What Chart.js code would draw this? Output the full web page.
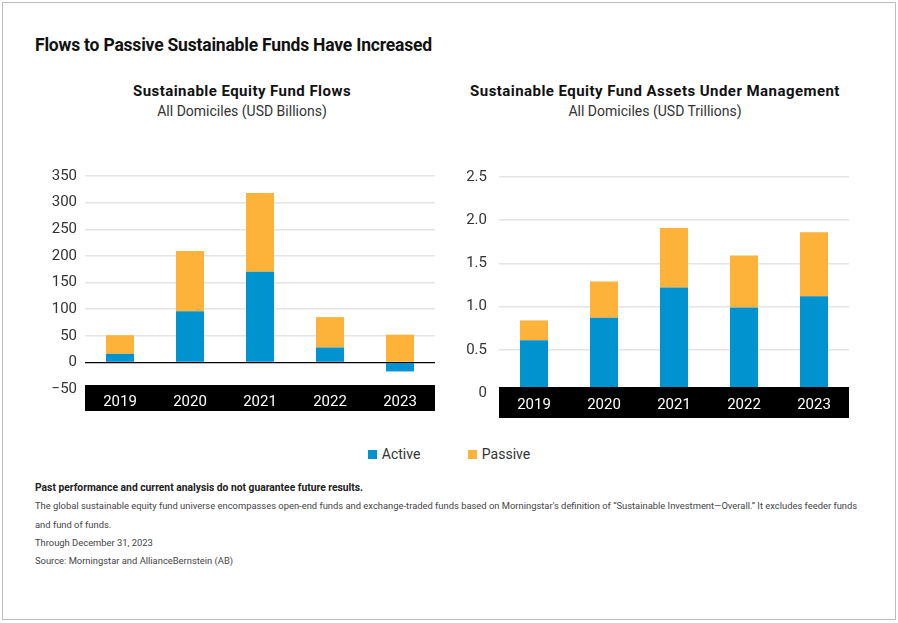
<!DOCTYPE html>
<html lang="en">
<head>
  <meta charset="UTF-8"/>
  <title>Flows to Passive Sustainable Funds Have Increased</title>
  <script src="https://cdn.jsdelivr.net/npm/chart.js"></script>
  <style>
    body {
      margin: 0;
      background: #fff;
      font-family: 'Roboto', 'Liberation Sans', sans-serif;
      color: #222;
    }
    .frame {
      position: absolute;
      left: 2px; top: 2px;
      width: 894px; height: 618px;
      border: 1px solid #bdbdbd;
      box-sizing: border-box;
    }
    .title {
      position: absolute;
      left: 35px; top: 35px;
      font-size: 17.5px;
      font-weight: 700;
      letter-spacing: -0.2px;
      color: #111;
    }
    .sub {
      position: absolute;
      text-align: center;
      line-height: 20px;
    }
    .sub b { font-size: 15px; color: #111; letter-spacing: 0.45px; }
    .sub span { font-size: 14px; color: #333; }
    .box { position: absolute; }
    .legend {
      position: absolute;
      top: 446px; left: 0; width: 898px;
      text-align: center;
      font-size: 14px;
      color: #333;
    }
    .legend i {
      display: inline-block;
      width: 9px; height: 9px;
      margin-right: 5px;
      vertical-align: 0;
    }
    .legend .item { margin: 0 22px; }
    .notes {
      position: absolute;
      left: 35px; top: 479px;
      font-size: 9.4px;
      line-height: 18.3px;
      color: #444;
    }
    .notes b { color: #222; font-size: 10.3px; }
  </style>
</head>
<body>

<div class="frame"></div>
<div class="title">Flows to Passive Sustainable Funds Have Increased</div>

<div class="sub" style="left:48px; top:81px; width:388px;">
  <b>Sustainable Equity Fund Flows</b><br><span>All Domiciles (USD Billions)</span>
</div>
<div class="sub" style="left:455px; top:81px; width:400px;">
  <b>Sustainable Equity Fund Assets Under Management</b><br><span>All Domiciles (USD Trillions)</span>
</div>

<div class="box" style="left:40px; top:159px; width:395px; height:252px;">
  <canvas id="flowsChart"></canvas>
</div>
<div class="box" style="left:455px; top:156px; width:394px; height:262px;">
  <canvas id="aumChart"></canvas>
</div>

<div class="legend">
  <span class="item"><i style="background:#0093d0"></i>Active</span>
  <span class="item"><i style="background:#fdb239"></i>Passive</span>
</div>

<div class="notes">
  <b>Past performance and current analysis do not guarantee future results.</b><br>
  The global sustainable equity fund universe encompasses open-end funds and exchange-traded funds based on Morningstar's definition of “Sustainable Investment—Overall.” It excludes feeder funds<br>
  and fund of funds.<br>
  Through December 31, 2023<br>
  Source: Morningstar and AllianceBernstein (AB)
</div>

<script>
  // data
  const years = ["2019", "2020", "2021", "2022", "2023"];
  const flowsActive  = [16, 96, 170, 28, -17];     // USD billions
  const flowsPassive = [35, 113, 148, 57, 52];
  const aumActive  = [0.61, 0.87, 1.22, 0.99, 1.12]; // USD trillions
  const aumPassive = [0.23, 0.42, 0.69, 0.60, 0.74];
  const flowTicks = [-50, 0, 50, 100, 150, 200, 250, 300, 350];
  const aumTicks  = [0, 0.5, 1.0, 1.5, 2.0, 2.5];

  const BLUE = "#0093d0";
  const ORANGE = "#fdb239";

  // black band behind the year labels
  const bandPlugin = {
    id: "band",
    afterDatasetsDraw(chart, args, opts) {
      const { ctx, scales: { x }, chartArea } = chart;
      ctx.save();
      ctx.fillStyle = "#000";
      const top = chartArea.bottom - opts.overlap;
      ctx.fillRect(x.left, top, x.right - x.left, x.bottom - top);
      ctx.restore();
    }
  };

  function makeChart(id, active, passive, ticks, opt) {
    return new Chart(document.getElementById(id), {
      type: "bar",
      data: {
        labels: years,
        datasets: [
          { label: "Active", data: active, backgroundColor: BLUE },
          { label: "Passive", data: passive, backgroundColor: ORANGE }
        ]
      },
      options: {
        responsive: true,
        maintainAspectRatio: false,
        animation: false,
        layout: { padding: { top: 10, right: 0, left: 0, bottom: 0 } },
        datasets: { bar: { barPercentage: 0.4, categoryPercentage: 1 } },
        plugins: {
          legend: { display: false },
          tooltip: { enabled: false },
          band: { overlap: opt.overlap }
        },
        scales: {
          x: {
            stacked: true,
            border: { display: false },
            grid: { display: false, drawTicks: false },
            ticks: {
              z: 1,
              color: "#fff",
              padding: opt.tickPad,
              font: { family: "Roboto", size: 15 }
            },
            afterFit: s => { s.height = opt.xHeight; }
          },
          y: {
            stacked: true,
            min: ticks[0],
            max: ticks[ticks.length - 1],
            afterBuildTicks: s => { s.ticks = ticks.map(v => ({ value: v })); },
            afterFit: s => { s.width = opt.yWidth; },
            border: { display: false },
            grid: {
              drawTicks: false,
              color: c => (c.tick.value === 0 && opt.zeroLine) ? "#000" : "#e4e4e4",
              lineWidth: c => (c.tick.value === 0 && opt.zeroLine) ? 1.2 : 1.5
            },
            ticks: {
              color: "#333",
              padding: opt.yPad,
              font: { family: "Roboto", size: 15 },
              callback: v => opt.fmt(v)
            }
          }
        }
      },
      plugins: [bandPlugin]
    });
  }

  makeChart("flowsChart", flowsActive, flowsPassive, flowTicks, {
    overlap: 4, tickPad: 4, xHeight: 22, yWidth: 45, yPad: 8, zeroLine: true,
    fmt: v => String(v).replace("-", "\u2212")
  });

  makeChart("aumChart", aumActive, aumPassive, aumTicks, {
    overlap: 6, tickPad: 3, xHeight: 25, yWidth: 44, yPad: 12, zeroLine: false,
    fmt: v => v === 0 ? "0" : v.toFixed(1)
  });
</script>

</body>
</html>
